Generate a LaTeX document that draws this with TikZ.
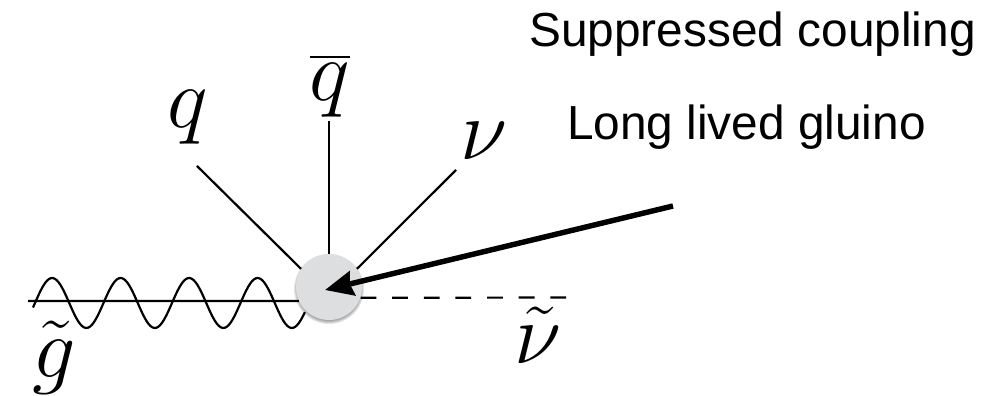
\documentclass[tikz,border=0pt]{standalone}
\usepackage{fix-cm}
\usepackage{amsmath}
\usepackage{fontspec}
\setmainfont{Liberation Sans}
\usetikzlibrary{arrows.meta, calc}
\definecolor{blobgrey}{RGB}{221,222,224}
\tikzset{
  blob/.style={circle, fill=blobgrey, minimum size=1.32cm, inner sep=0pt},
  leg/.style={line width=1.25pt, color=black},
  dashedleg/.style={leg, dash pattern=on 9pt off 9pt},
  gluinoarrow/.style={-{Stealth[length=16pt, width=14pt, inset=1.5pt]}, line width=3.1pt, color=black},
  partlabel/.style={font=\fontsize{49}{49}\selectfont, inner sep=0pt},
  notelabel/.style={font=\fontsize{27.2}{27.2}\selectfont, inner sep=0pt, anchor=base}
}

\begin{document}
\begin{tikzpicture}
  \useasboundingbox (0,0) rectangle (20.14,7.92);
  % soft shadow under the blob
  \foreach \r in {0.70, 0.68, 0.66, 0.64} \fill[black, opacity=0.1] (6.58,2.14) circle (\r);
  \node[blob] (vertex) at (6.58,2.18) {};
  % outgoing legs
  \coordinate (qend) at (3.94,4.60);
  \coordinate (qbarend) at (6.58,5.50);
  \coordinate (nuend) at (9.12,4.52);
  \coordinate (gluinoend) at (0.56,1.90);
  \coordinate (snuend) at (11.36,1.97);
  \draw[leg] (qend) -- (vertex.147);
  \draw[leg] (qbarend) -- (vertex.north);
  \draw[leg] (nuend) -- (vertex.33);
  \draw[leg] (gluinoend) -- (vertex.205);
  \draw[dashedleg] (vertex.-19) -- (snuend);
  % gluino wave
  \draw[leg, line join=round] plot[domain=0.66:6.10, samples=140, smooth]
    (\x, {1.86+0.5*sin(360*(\x-0.70)/1.37)});
  % long lived arrow
  \coordinate (arrowstart) at (13.46,3.80);
  \coordinate (arrowtip) at (6.50,2.12);
  \draw[gluinoarrow] (arrowstart) -- (arrowtip);
  % labels
  \node[partlabel] (qlabel) at (3.76,5.58) {$q$};
  \node[partlabel] (qbarlabel) at (6.60,6.20) {$\overline{q}$};
  \node[partlabel] (nulabel) at (9.68,5.10) {$\nu$};
  \node[partlabel] (gluinolabel) at (1.08,0.76) {$\tilde{g}$};
  \node[partlabel] (snulabel) at (10.76,1.21) {$\tilde{\nu}$};
  \node[notelabel] (couplingnote) at (15.05,6.98) {Suppressed coupling};
  \node[notelabel] (livednote) at (14.93,5.12) {Long lived gluino};
\end{tikzpicture}
\end{document}
